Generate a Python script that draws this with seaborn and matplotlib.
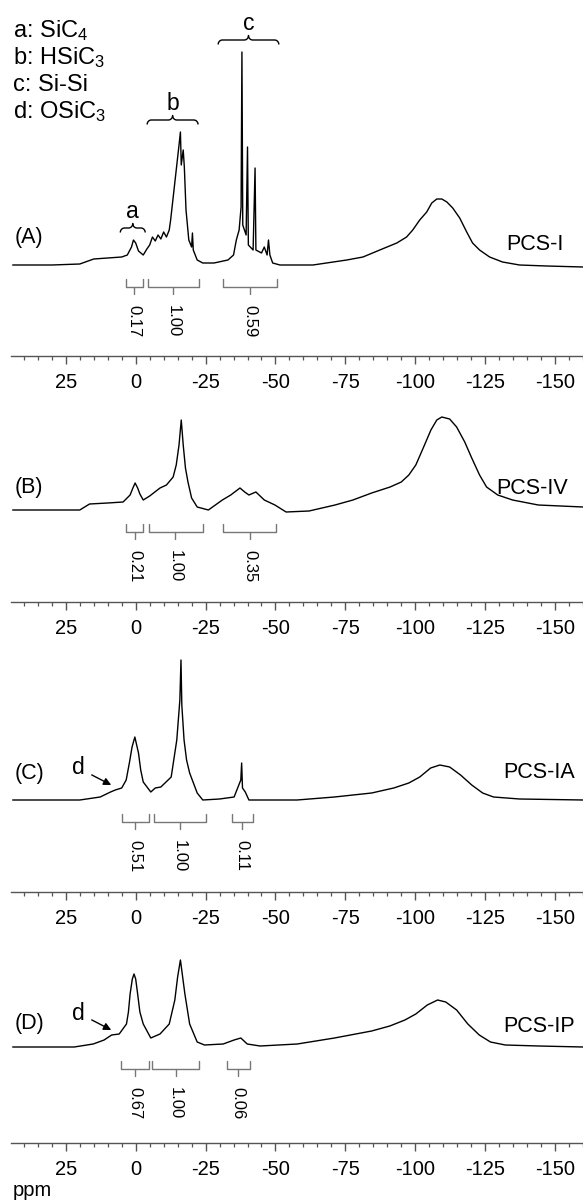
import numpy as np
import pandas as pd
import matplotlib
matplotlib.use("Agg")
import matplotlib.pyplot as plt
import seaborn as sns

sns.set_style("white")
plt.rcParams['font.family'] = ['Liberation Sans', 'DejaVu Sans']
plt.rcParams['mathtext.fontset'] = 'custom'
plt.rcParams['mathtext.rm'] = 'Liberation Sans'
plt.rcParams['mathtext.it'] = 'Liberation Sans:italic'

# ---------------- data (ppm, intensity a.u.) ----------------
A_ppm = [44, 30, 20, 15, 10, 5, 3, 1.5, 0.8, 0, -1, -2.7, -4, -5, -6, -7, -8, -9, -10, -11,
         -12, -12.5, -13.5, -14.5, -15.5, -16, -16.3, -17, -17.4, -18, -19, -20, -20.3, -20.6, -22,
         -24, -28, -33, -35, -36, -37, -37.7, -38.0, -38.3, -39.5, -40.0, -40.3, -42, -42.7, -43.0,
         -45, -46, -47, -47.5, -48, -49, -51.6, -63.4, -75.5, -81.3, -87.3, -93.4, -96.9, -99.1,
         -101.6, -104.1, -105.9, -107.7, -109.5, -111.3, -113.4, -115.9, -118.4, -120.5, -123,
         -126.6, -131.2, -137.3, -147, -160]
A_int = [0, 0, 1, 6, 7, 8, 10, 18, 25, 22, 14, 10, 16, 20, 28, 24, 30, 26, 33, 28,
         35, 45, 70, 95, 120, 133, 100, 115, 98, 55, 25, 18, 32, 15, 5,
         2, 2, 5, 10, 25, 35, 58, 213, 40, 30, 118, 20, 15, 97, 15,
         12, 18, 10, 25, 10, 2, 0, 0, 5, 8, 15, 22, 28, 35,
         45, 53, 62, 66, 66, 63, 57, 47, 33, 22, 15,
         8, 3, 0, -1, -2]

B_ppm = [44, 30, 20, 16.5, 10, 4.5, 2, 1, 0.2, -0.7, -1.5, -2.7, -5, -8.7, -11, -13.4, -14.5,
         -15.5, -16.3, -17.0, -17.8, -18.7, -20, -22, -26, -31, -34, -37.3, -39, -40.5, -43, -46,
         -49.8, -53.8, -62, -71.3, -77.7, -84.4, -91, -95, -97.7, -100.2, -103, -105.6, -107.7,
         -109.5, -112.3, -114.8, -117.7, -120.2, -123, -125.5, -129.5, -134.8, -144, -160]
B_int = [0, 0, 0, 6, 7, 8, 15, 22, 27, 22, 16, 10, 14, 22, 25, 33, 45,
         65, 90, 65, 42, 28, 12, 3, 0, 10, 15, 22, 18, 15, 18, 10,
         5, -2, -1, 5, 10, 17, 23, 28, 35, 45, 63, 80, 90,
         93, 91, 83, 68, 52, 35, 23, 15, 10, 5, 3]

C_ppm = [44, 20, 12.7, 9, 7.3, 5, 3.4, 2.2, 1.3, 0.3, -1, -1.8, -2.7, -5.4, -7, -9, -12.7, -14.7,
         -15.8, -16.2, -16.5, -17.3, -18.2, -19.3, -22, -24, -30, -35.2, -37.6, -37.9, -38.2, -39.2,
         -40.5, -57.7, -71.1, -84.4, -92.3, -97.7, -101.6, -105.5, -108.8, -112.3, -116.2, -120.2,
         -124.1, -128, -137.3, -160]
C_int = [0, 0, 3, 8, 10, 12, 20, 38, 53, 63, 47, 30, 18, 8, 12, 13, 23, 60,
         100, 140, 95, 60, 40, 27, 7, 0, 1, 3, 20, 37, 12, 8,
         0, 0, 3, 7, 12, 17, 23, 32, 35, 33, 25, 15,
         7, 3, 1, 0]

D_ppm = [44, 22, 15.2, 11.3, 8.6, 5.9, 3.3, 2.6, 2, 1.2, 0.6, 0, -0.7, -1.5, -2.7, -5.4, -8.7, -12,
         -14, -15, -16, -16.8, -17.6, -19.3, -22, -24.6, -31.3, -35.2, -37.6, -39.9, -44.5, -57.8,
         -71.1, -84.4, -90.9, -96.3, -100.2, -104.3, -108, -110.9, -114.8, -118.8, -122.9, -126.9,
         -132.2, -144.1, -160]
D_int = [0, 0, 3, 7, 12, 13, 23, 35, 53, 68, 73, 68, 53, 35, 23, 9, 13, 23,
         47, 70, 87, 70, 53, 23, 5, 2, 3, 7, 9, 3, 1, 3,
         9, 16, 21, 27, 33, 42, 47, 45, 37, 23, 12, 5,
         2, 1, 0]

samples = ["PCS-I", "PCS-IV", "PCS-IA", "PCS-IP"]
panel_tags = ["(A)", "(B)", "(C)", "(D)"]

int_ranges = [
    [(3.4, -2.7), (-4.5, -22.7), (-31.2, -50.5)],
    [(3.4, -2.7), (-4.8, -24.0), (-31.2, -50.2)],
    [(4.8, -4.8), (-6.4, -25.0), (-34.5, -42.0)],
    [(5.2, -4.8), (-6.0, -22.7), (-32.6, -40.9)],
]
int_centers = [[0.5, -13.4, -40.9], [0.2, -14.0, -40.9], [0.3, -15.7, -38.0], [0.3, -14.3, -36.6]]
int_values = [["0.17", "1.00", "0.59"], ["0.21", "1.00", "0.35"],
              ["0.51", "1.00", "0.11"], ["0.67", "1.00", "0.06"]]

legend_lines = ["a: SiC$_\\mathrm{4}$", "b: HSiC$_\\mathrm{3}$", "c: Si-Si", "d: OSiC$_\\mathrm{3}$"]
brace_labels = ["a", "b", "c"]
brace_ranges = [(5.5, -3.4), (-4.1, -22.3), (-29.5, -51.2)]

tick_major = [25, 0, -25, -50, -75, -100, -125, -150]

spectra = [(A_ppm, A_int), (B_ppm, B_int), (C_ppm, C_int), (D_ppm, D_int)]

# ---------------- layout (pixels) ----------------
W, H = 583, 1201
fig = plt.figure(figsize=(W / 100, H / 100), dpi=100)
axis_y = [356, 602, 892, 1143]
base_y = [265, 510, 800, 1047]
top_y = [0, 380, 630, 950]
tag_h = [27, 22, 27, 24]
lab_pos = [(507, 20), (497, 22), (504, 27), (504, 20)]
XL, XR = 44.6, -160.0
ax_left = 11

GRAY = "#555555"
TXT = 15


def draw_brace(ax, left, right, hh, rr=1.5, hb=4.5):
    ul, ur = -left, -right
    um = (ul + ur) / 2
    t = np.linspace(0, np.pi / 2, 12)
    us = np.concatenate([ul + rr * (1 - np.cos(t)),
                         um - rr + rr * np.sin(t),
                         um + rr * (1 - np.cos(t)),
                         ur - rr + rr * np.sin(t)])
    ys = np.concatenate([hh - hb + hb * np.sin(t),
                         hh + hb * (1 - np.cos(t)),
                         hh + hb - hb * np.sin(t),
                         hh - hb * (1 - np.cos(t))])
    ax.plot(-us, ys, color="black", lw=1.0, solid_capstyle="butt")
    return -um


for i, (ppm, inten) in enumerate(spectra):
    rect = [ax_left / W, 1 - axis_y[i] / H, (W - ax_left) / W, (axis_y[i] - top_y[i]) / H]
    ax = fig.add_axes(rect)
    ax.patch.set_alpha(0)
    df = pd.DataFrame({"ppm": ppm, "intensity": inten})
    sns.lineplot(data=df, x="ppm", y="intensity", ax=ax, color="black", lw=1.0,
                 estimator=None, sort=False)
    ax.set_xlim(XL, XR)
    ax.set_ylim(-(axis_y[i] - base_y[i]), base_y[i] - top_y[i])
    for s in ["left", "right", "top"]:
        ax.spines[s].set_visible(False)
    ax.spines["bottom"].set_color(GRAY)
    ax.spines["bottom"].set_linewidth(1.0)
    ax.set_yticks([])
    ax.set_xticks(tick_major)
    ax.set_xticklabels([str(t) for t in tick_major])
    ax.set_xticks(np.arange(-160, 45, 5), minor=True)
    ax.tick_params(axis="x", which="major", direction="out", length=6, width=1,
                   color=GRAY, labelsize=14.5, pad=6, bottom=True, labelcolor="black")
    ax.tick_params(axis="x", which="minor", direction="out", length=2.8, width=0.9,
                   color=GRAY, bottom=True)
    ax.set_xlabel("")
    ax.set_ylabel("")

    ax.text(43.2, tag_h[i], panel_tags[i], ha="left", va="center", fontsize=TXT + 0.5,
            color="black")
    lx, lh = lab_pos[i]
    ax.text((135.5 - lx) / 2.8, lh, samples[i], ha="left", va="center", fontsize=TXT + 0.5,
            color="black")

    for (l, r), c, v in zip(int_ranges[i], int_centers[i], int_values[i]):
        ax.plot([l, l, r, r], [-14, -22, -22, -14], color="#777777", lw=1.0)
        ax.plot([c, c], [-22, -29], color="#777777", lw=1.0)
        ax.text(c, -40, v, rotation=270, ha="center", va="top", fontsize=12, color="black")

    if i == 0:
        for k, t in enumerate(legend_lines):
            ax.text(43.8, 228 - 27 * k, t, ha="left", va="baseline", fontsize=TXT + 2,
                    color="black")
        heights = [37, 145, 225]
        for (l, r), lab, hh in zip(brace_ranges, brace_labels, heights):
            xm = draw_brace(ax, l, r, hh)
            ax.text(xm, hh + 16, lab, ha="center", va="center", fontsize=TXT + 1.5,
                    color="black")

    if i >= 2:
        dh = 32 if i == 2 else 34
        th = 15 if i == 2 else 17
        ax.annotate("d", xy=(8.75, th), xytext=(20.5, dh), ha="center", va="center",
                    fontsize=TXT + 1.5, color="black",
                    arrowprops=dict(arrowstyle="-|>", color="black", lw=1.0,
                                    mutation_scale=11, shrinkA=3, shrinkB=0))

fig.text(13 / W, 1 - 1190 / H, "ppm", ha="left", va="center", fontsize=14.5, color="black")
fig.savefig("out.png", dpi=100)
